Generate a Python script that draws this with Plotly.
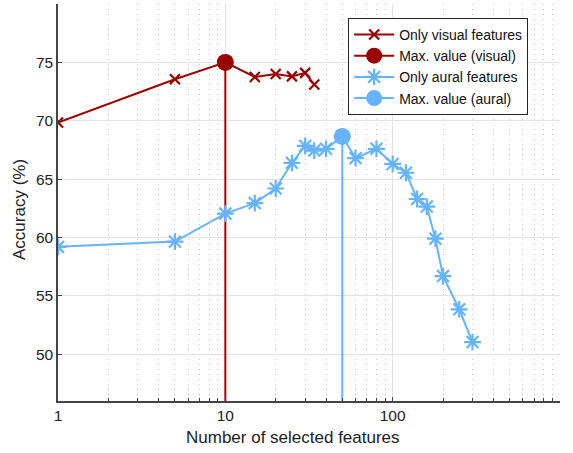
import plotly.graph_objects as go

# Data
visual_x = [1, 5, 10, 15, 20, 25, 30, 34]
visual_y = [69.85, 73.55, 75.0, 73.75, 74.0, 73.8, 74.1, 73.1]

aural_x = [1, 5, 10, 15, 20, 25, 30, 34, 40, 50, 60, 80, 100, 120, 140, 160, 180, 200, 250, 300]
aural_y = [59.2, 59.65, 62.05, 62.95, 64.2, 66.4, 67.85, 67.45, 67.6, 68.65, 66.8, 67.6,
           66.3, 65.55, 63.3, 62.65, 59.9, 56.7, 53.85, 51.05]

y_min, y_max = 46, 80
x_ticks = [1, 10, 100, 1000]
y_ticks = [50, 55, 60, 65, 70, 75]

red = "#990000"
blue = "#66b3ff"

iv = visual_y.index(max(visual_y))
ia = aural_y.index(max(aural_y))
vmax_x, vmax_y = visual_x[iv], visual_y[iv]
amax_x, amax_y = aural_x[ia], aural_y[ia]

fig = go.Figure()

fig.add_trace(go.Scatter(
    x=[vmax_x, vmax_x], y=[vmax_y, y_min], mode="lines",
    line=dict(color="#aa0000", width=2), showlegend=False, legendgroup="vm"))
fig.add_trace(go.Scatter(
    x=[amax_x, amax_x], y=[amax_y, y_min], mode="lines",
    line=dict(color=blue, width=2), showlegend=False, legendgroup="am"))

fig.add_trace(go.Scatter(
    x=visual_x, y=visual_y, mode="lines+markers", name="Only visual features",
    line=dict(color=red, width=2),
    marker=dict(symbol="x-thin-open", size=10, line=dict(color=red, width=2.2))))
fig.add_trace(go.Scatter(
    x=[vmax_x], y=[vmax_y], mode="lines+markers", name="Max. value (visual)",
    legendgroup="vm",
    line=dict(color=red, width=2),
    marker=dict(symbol="circle", size=17, color=red)))
fig.add_trace(go.Scatter(
    x=aural_x, y=aural_y, mode="lines+markers", name="Only aural features",
    line=dict(color=blue, width=2),
    marker=dict(symbol="asterisk-open", size=14, line=dict(color=blue, width=2.2))))
fig.add_trace(go.Scatter(
    x=[amax_x], y=[amax_y], mode="lines+markers", name="Max. value (aural)",
    legendgroup="am",
    line=dict(color=blue, width=2),
    marker=dict(symbol="circle", size=17, color=blue)))

fig.update_layout(
    width=573, height=453,
    margin=dict(l=58, r=13, t=4, b=52),
    paper_bgcolor="white", plot_bgcolor="white",
    font=dict(family="Liberation Sans, Arial, sans-serif", size=15.5, color="#222"),
    legend=dict(x=0.578, y=0.965, xanchor="left", yanchor="top",
                bgcolor="white", bordercolor="#222", borderwidth=1,
                font=dict(size=14, color="#111"), tracegroupgap=0,
                itemwidth=40),
    annotations=[
        dict(text="Number of selected features", xref="paper", yref="paper",
             x=0.469, y=-0.093, xanchor="center", yanchor="middle",
             showarrow=False, font=dict(size=17, color="#222")),
        dict(text="Accuracy (%)", xref="paper", yref="paper",
             x=-0.077, y=0.482, xanchor="center", yanchor="middle",
             textangle=-90, showarrow=False, font=dict(size=17, color="#222")),
    ],
)
fig.update_xaxes(
    type="log", range=[0, 3], tickvals=x_ticks, ticktext=[str(v) for v in x_ticks],
    tickfont=dict(size=15.5),
    showgrid=True, gridcolor="#e3e3e3", gridwidth=1,
    showline=True, linecolor="#444", linewidth=1.5,
    ticks="inside", ticklen=4, tickcolor="#444",
    minor=dict(dtick="D1", showgrid=True, griddash="1px,4px", gridcolor="#c8c8c8",
               ticks="inside", ticklen=3, tickcolor="#444"),
    zeroline=False,
)
fig.update_yaxes(
    range=[y_min, y_max], tickvals=y_ticks,
    tickfont=dict(size=15.5),
    showgrid=True, gridcolor="#e3e3e3", gridwidth=1,
    showline=True, linecolor="#444", linewidth=1.5,
    ticks="inside", ticklen=4, tickcolor="#444",
    zeroline=False,
)

fig.write_html("out.html")
